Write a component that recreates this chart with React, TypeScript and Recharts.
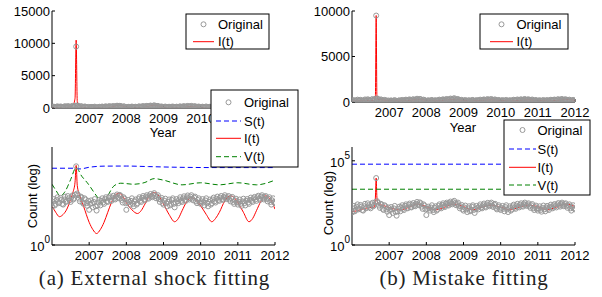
import React from 'react';
import { ComposedChart, Line, XAxis, YAxis } from 'recharts';

const FONT = '"Liberation Sans", Arial, Helvetica, sans-serif';
const SERIF = '"Liberation Serif", "Times New Roman", serif';

const yearTicks = [2007, 2008, 2009, 2010, 2011, 2012];

// observed counts, one sample every 0.025 year starting 2006.0 (one row per year)
const ORIG_START = 2006;
const ORIG_STEP = 0.025;
const original = [
  85, 150, 210, 100, 120, 190, 260, 130, 140, 240, 190, 120, 110, 200, 280, 150, 170, 300, 230, 180,
  150, 260, 320, 200, 240, 350, 9500, 400, 330, 220, 160, 280, 250, 140, 120, 230, 200, 130, 95, 170,
  60, 120, 180, 130, 80, 150, 210, 90, 55, 100, 140, 190, 100, 170, 230, 140, 120, 210, 260, 160,
  150, 240, 290, 180, 170, 250, 310, 220, 200, 280, 360, 250, 230, 340, 300, 190, 140, 260, 220, 130,
  60, 140, 190, 150, 110, 170, 230, 120, 90, 160, 200, 110, 130, 210, 260, 170, 150, 240, 300, 200,
  180, 280, 330, 240, 220, 310, 380, 290, 260, 350, 420, 300, 230, 280, 330, 210, 150, 200, 240, 130,
  110, 170, 220, 130, 90, 150, 200, 100, 120, 190, 230, 120, 80, 140, 210, 160, 130, 200, 260, 170,
  150, 230, 290, 190, 170, 260, 320, 230, 200, 280, 330, 220, 180, 250, 280, 160, 130, 190, 230, 140,
  120, 160, 210, 140, 100, 180, 230, 130, 90, 150, 200, 110, 130, 200, 250, 160, 140, 220, 280, 190,
  170, 250, 300, 210, 190, 270, 330, 240, 210, 260, 300, 200, 160, 230, 270, 150, 120, 180, 220, 140,
  110, 150, 200, 120, 95, 160, 220, 130, 100, 170, 210, 140, 120, 190, 250, 170, 150, 230, 270, 200,
  170, 260, 310, 220, 190, 280, 330, 240, 200, 270, 300, 210, 160, 220, 260, 150, 110, 180, 230, 150,
  130,
];

// (a) external shock model
const shockS: [number, number][] = [
  [2006.0, 7600], [2006.6, 7600], [2006.75, 7000], [2007.0, 8500], [2007.4, 9700], [2008.0, 9800],
  [2008.6, 9200], [2009.4, 8500], [2010.5, 8200], [2012.0, 8200],
];
const shockI: [number, number][] = [
  [2006.0, 96], [2006.1, 45], [2006.2, 27], [2006.3, 35], [2006.4, 65], [2006.5, 200], [2006.57, 500],
  [2006.62, 1500], [2006.65, 10500], [2006.68, 1000], [2006.75, 300], [2006.85, 90], [2007.0, 14],
  [2007.1, 6], [2007.2, 3.8], [2007.3, 6], [2007.4, 14], [2007.5, 45], [2007.6, 140], [2007.7, 320],
  [2007.8, 420], [2007.9, 300], [2008.0, 140], [2008.15, 60], [2008.3, 39], [2008.4, 55], [2008.5, 117],
  [2008.62, 300], [2008.75, 450], [2008.88, 300], [2009.0, 117], [2009.15, 35], [2009.3, 15], [2009.4, 22],
  [2009.5, 54], [2009.62, 150], [2009.75, 250], [2009.88, 180], [2010.0, 96], [2010.15, 35], [2010.3, 15],
  [2010.4, 22], [2010.5, 44], [2010.65, 170], [2010.8, 305], [2010.9, 250], [2011.0, 140], [2011.15, 45],
  [2011.3, 15], [2011.4, 22], [2011.5, 54], [2011.62, 160], [2011.75, 305], [2011.88, 200], [2012.0, 65],
];
const shockV: [number, number][] = [
  [2006.0, 1180], [2006.1, 600], [2006.22, 305], [2006.35, 500], [2006.5, 2000], [2006.65, 8100],
  [2006.8, 3000], [2006.95, 1400], [2007.2, 300], [2007.38, 116], [2007.5, 300], [2007.67, 980],
  [2007.85, 1330], [2008.2, 1180], [2008.5, 1450], [2008.75, 2270], [2009.0, 1900], [2009.5, 1100],
  [2010.0, 1400], [2010.5, 1100], [2011.0, 1400], [2011.5, 1100], [2012.0, 1900],
];

// (b) mistake model
const mistakeS: [number, number][] = [[2006.0, 63000], [2012.0, 63000]];
const mistakeI: [number, number][] = [
  [2006.0, 93], [2006.15, 110], [2006.3, 140], [2006.45, 165], [2006.6, 175], [2006.63, 700],
  [2006.65, 9500], [2006.67, 700], [2006.7, 265], [2006.85, 220], [2007.0, 167], [2007.3, 122],
  [2007.55, 180], [2007.75, 268], [2008.0, 192], [2008.25, 122], [2008.5, 180], [2008.75, 268],
  [2009.0, 192], [2009.25, 122], [2009.5, 175], [2009.75, 233], [2010.0, 180], [2010.25, 122],
  [2010.5, 175], [2010.75, 233], [2011.0, 190], [2011.25, 122], [2011.5, 180], [2011.75, 268], [2012.0, 192],
];
const mistakeV: [number, number][] = [[2006.0, 2050], [2012.0, 2050]];

const labels = { orig: 'Original', s: 'S(t)', i: 'I(t)', v: 'V(t)' };

type Pt = { t: number; v: number };
const toData = (pts: [number, number][]): Pt[] => pts.map(([t, v]) => ({ t, v }));
const origData: Pt[] = original.map((v, i) => ({ t: +(ORIG_START + i * ORIG_STEP).toFixed(3), v }));

const GRAY = '#999999';
const BLUE = '#0000ff';
const RED = '#ff0000';
const GREEN = '#008000';
const DASH = '5 3';

type Series = { data: Pt[]; color: string; dash?: string; dots?: boolean };

const LogTick = (props: any) => {
  const { x, y, payload } = props;
  const exp = Math.round(Math.log10(payload.value));
  return (
    <text x={x} y={y} textAnchor="end" fontSize={13} fontFamily={FONT} fill="#000">
      <tspan dy={6}>10</tspan>
      <tspan dy={-8} fontSize={10}>{exp}</tspan>
    </text>
  );
};

function Plot(props: {
  left: number; top: number; width: number; height: number;
  log?: boolean; domain: [number, number]; yTicks: number[]; series: Series[];
}) {
  const { left, top, width, height, log, domain, yTicks, series } = props;
  const padL = 60, padT = 15, padR = 25, padB = 25;
  const tickStyle = { fontSize: 13, fill: '#000', fontFamily: FONT };
  return (
    <div style={{ position: 'absolute', left: left - padL, top: top - padT }}>
      <ComposedChart
        width={width + padL + padR}
        height={height + padT + padB}
        margin={{ top: padT, right: padR, bottom: 0, left: 0 }}
      >
        <XAxis xAxisId="b" dataKey="t" type="number" domain={[2006, 2012]} ticks={yearTicks}
          allowDataOverflow height={padB} interval={0} tickSize={-3} tickMargin={9}
          stroke="#000" tick={tickStyle} />
        <XAxis xAxisId="t" orientation="top" dataKey="t" type="number" domain={[2006, 2012]}
          ticks={yearTicks} allowDataOverflow height={0} interval={0} tickSize={-3} tick={false} stroke="#000" />
        <YAxis yAxisId="l" type="number" scale={log ? 'log' : 'linear'} domain={domain} ticks={yTicks}
          allowDataOverflow width={padL} interval={0} tickSize={-3} tickMargin={5} stroke="#000"
          tick={log ? <LogTick /> : tickStyle} />
        <YAxis yAxisId="r" orientation="right" type="number" scale={log ? 'log' : 'linear'} domain={domain}
          ticks={yTicks} allowDataOverflow width={0} interval={0} tickSize={-3} tick={false} stroke="#000" />
        {series.map((s, k) =>
          s.dots ? (
            <Line key={k} xAxisId="b" yAxisId="l" data={s.data} dataKey="v" stroke="none"
              dot={{ r: 2.5, stroke: s.color, strokeWidth: 1, fill: 'none' }} activeDot={false}
              isAnimationActive={false} />
          ) : (
            <Line key={k} xAxisId="b" yAxisId="l" data={s.data} dataKey="v" type="monotone"
              stroke={s.color} strokeWidth={1} strokeDasharray={s.dash} dot={false} activeDot={false}
              isAnimationActive={false} />
          )
        )}
      </ComposedChart>
    </div>
  );
}

type Row = { label: string; color: string; kind: 'dot' | 'line'; dash?: string; y: number };

function LegendBox(p: { x: number; y: number; w: number; h: number; lx1: number; lx2: number; tx: number; rows: Row[] }) {
  return (
    <g>
      <rect x={p.x} y={p.y} width={p.w} height={p.h} fill="#fff" stroke="#000" strokeWidth={1} />
      {p.rows.map((r, k) => (
        <g key={k}>
          {r.kind === 'dot' ? (
            <circle cx={(p.lx1 + p.lx2) / 2} cy={r.y} r={2.5} fill="none" stroke={r.color} />
          ) : (
            <line x1={p.lx1} x2={p.lx2} y1={r.y} y2={r.y} stroke={r.color} strokeDasharray={r.dash} />
          )}
          <text x={p.tx} y={r.y} dy={4.5} fontSize={13} fontFamily={FONT} fill="#000">{r.label}</text>
        </g>
      ))}
    </g>
  );
}

export default function App() {
  const shockTop: Series[] = [
    { data: origData, color: GRAY, dots: true },
    { data: toData(shockI), color: RED },
  ];
  const shockBottom: Series[] = [
    { data: origData, color: GRAY, dots: true },
    { data: toData(shockS), color: BLUE, dash: DASH },
    { data: toData(shockI), color: RED },
    { data: toData(shockV), color: GREEN, dash: DASH },
  ];
  const mistakeTop: Series[] = [
    { data: origData, color: GRAY, dots: true },
    { data: toData(mistakeI), color: RED },
  ];
  const mistakeBottom: Series[] = [
    { data: origData, color: GRAY, dots: true },
    { data: toData(mistakeS), color: BLUE, dash: DASH },
    { data: toData(mistakeI), color: RED },
    { data: toData(mistakeV), color: GREEN, dash: DASH },
  ];

  return (
    <div style={{ position: 'absolute', left: 0, top: 0, width: 602, height: 297, background: '#fff', overflow: 'hidden' }}>
      <Plot left={51.5} top={10.5} width={223} height={97} domain={[0, 15000]} yTicks={[0, 5000, 10000, 15000]} series={shockTop} />
      <Plot left={51.5} top={146.5} width={223} height={98} log domain={[1, 90000]} yTicks={[1]} series={shockBottom} />
      <Plot left={351.5} top={10.5} width={223} height={91} domain={[0, 10000]} yTicks={[0, 5000, 10000]} series={mistakeTop} />
      <Plot left={351.5} top={146.5} width={223} height={98} log domain={[1, 660000]} yTicks={[1, 100000]} series={mistakeBottom} />

      <svg width={602} height={297} style={{ position: 'absolute', left: 0, top: 0, pointerEvents: 'none' }}>
        <text x={163} y={137} textAnchor="middle" fontSize={13} fontFamily={FONT}>Year</text>
        <text x={463} y={132} textAnchor="middle" fontSize={13} fontFamily={FONT}>Year</text>
        <text transform="translate(37,196) rotate(-90)" textAnchor="middle" fontSize={13} fontFamily={FONT}>Count (log)</text>
        <text transform="translate(333,203) rotate(-90)" textAnchor="middle" fontSize={13} fontFamily={FONT}>Count (log)</text>

        <LegendBox x={186} y={14} w={83} h={35} lx1={193} lx2={214} tx={218} rows={[
          { label: labels.orig, color: GRAY, kind: 'dot', y: 24.3 },
          { label: labels.i, color: RED, kind: 'line', y: 41.7 },
        ]} />
        <LegendBox x={480} y={14} w={88} h={35} lx1={490} lx2={513} tx={516.5} rows={[
          { label: labels.orig, color: GRAY, kind: 'dot', y: 24.3 },
          { label: labels.i, color: RED, kind: 'line', y: 41.7 },
        ]} />
        <LegendBox x={211} y={90} w={87} h={77} lx1={216} lx2={241} tx={244} rows={[
          { label: labels.orig, color: GRAY, kind: 'dot', y: 102.3 },
          { label: labels.s, color: BLUE, kind: 'line', dash: DASH, y: 121 },
          { label: labels.i, color: RED, kind: 'line', y: 138.3 },
          { label: labels.v, color: GREEN, kind: 'line', dash: DASH, y: 156.7 },
        ]} />
        <LegendBox x={504} y={120} w={86} h={75} lx1={509} lx2={536} tx={537.5} rows={[
          { label: labels.orig, color: GRAY, kind: 'dot', y: 130 },
          { label: labels.s, color: BLUE, kind: 'line', dash: DASH, y: 149 },
          { label: labels.i, color: RED, kind: 'line', y: 167.3 },
          { label: labels.v, color: GREEN, kind: 'line', dash: DASH, y: 185 },
        ]} />

        <text x={154.5} y={285} textAnchor="middle" fontSize={21} fontFamily={SERIF} fill="#222" letterSpacing={0.8}>(a) External shock fitting</text>
        <text x={464} y={285} textAnchor="middle" fontSize={21} fontFamily={SERIF} fill="#222" letterSpacing={0.8}>(b) Mistake fitting</text>
      </svg>
    </div>
  );
}
